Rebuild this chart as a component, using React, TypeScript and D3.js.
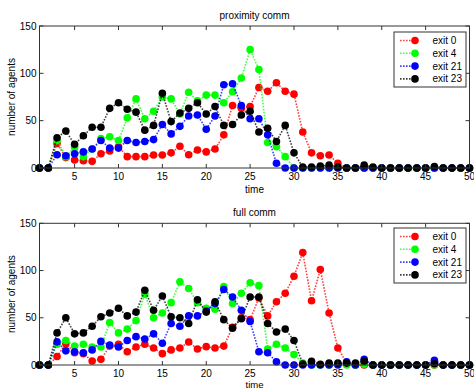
import React from "react";
import * as d3 from "d3";

const times = d3.range(1, 51);
const seriesNames = ["exit 0", "exit 4", "exit 21", "exit 23"];
const seriesColors = ["#ff0000", "#00ff00", "#0000ff", "#000000"];
const xTicks = [5, 10, 15, 20, 25, 30, 35, 40, 45, 50];
const yTicks = [0, 50, 100, 150];

// proximity comm
const proxExit0 = [0,0,26,11,8.5,7.7,7,15,18,22.5,12,12,12,13.7,13.7,16,23,14,19,17,20,35,66,63,65,85,81,90,81,78,38,16,13,13.7,5,0,0,0,0,0,0,0,0,0,0,0,0,0,0,0];
const proxExit4 = [0,0,29,12,22,12,20,31,33,29,53,73,52,60,75,73,57,80,71,77,77,69,80.6,95,125,104,27,22.5,12,0,0,0,0,0,0,0,0,0,0,0,0,0,0,0,0,0,0,0,0,0];
const proxExit21 = [0,0,14,13,15,17,20,29,21,21,29,27,28,30,46,36,44,55,56,41,55,88,89,66,52,52,35,5,0,0,0,0,0,0,0,0,0,0,0,0,0,0,0,0,0,0,0,0,0,0];
const proxExit23 = [0,0,32,39,25,34,43,43,63,69,62,59,40,45,79,49,58,63,69,57,65,45,46,56,60,38,42,28,45,16,1,1,2,3,1,0,0,3,1,0,0,0,0,0,0,1.5,0,0,0,0];

// full comm
const fullExit0 = [0,0,9,22.6,13,12,4.2,6,20,22,14,19,22,18,12,16,18,24.4,17,19.4,18,20,40,50,48,71,52,67,76,94,119,68,101,55,18,2,0,0,0,0,0,0,0,0,0,0,0,0,0,0];
const fullExit4 = [0,0,22,26,20,22,19,19,45,34,38,47,75,50,55,66,88,81,66,60,59,83,65,76,87,84,17,22,18,11,2,0,0,0,1,0,0,0.7,0,0,0,0,0,0,0,0,0,0,0,0];
const fullExit21 = [0,0,24.5,15,14,13,16,25,21,19,26,30,27.5,33,23,44,41,52,52,57,65,80,72,58,46,14,13,3.5,0,0,0,0,0,0,0,3.5,0,6,0,0,0,0,0,0,0,5,0,0,0,0];
const fullExit23 = [0,0,34,50,33,34,41,51,55,60,52,56,79,58,73,51,50,44,69,56,67,48,39,49,72,72,44,35,38,26,1,4,0.7,2,2,2,2,4,0,0,0,0,0,0,0,1.4,0,0,0,0];

const panels = [
  { title: "proximity comm", top: 26, bottom: 168, legendY: 32, xLabelDy: 25, xLabelSize: 10, series: [proxExit0, proxExit4, proxExit21, proxExit23] },
  { title: "full comm", top: 223.3, bottom: 365, legendY: 228, xLabelDy: 22.5, xLabelSize: 9.5, series: [fullExit0, fullExit4, fullExit21, fullExit23] },
];

const LEFT = 39.5;
const RIGHT = 469.5;
const FONT = "'Liberation Sans', Arial, Helvetica, sans-serif";
const AXIS = "#333";

function Panel({ p }: { p: typeof panels[number] }) {
  const x = d3.scaleLinear().domain([1, 50]).range([LEFT, RIGHT]);
  const y = d3.scaleLinear().domain([0, 150]).range([p.bottom, p.top]);
  const line = d3
    .line<number>()
    .x((_, i) => x(times[i]))
    .y((d) => y(d));
  const cx = (LEFT + RIGHT) / 2;
  const tl = 4;
  return (
    <g>
      <rect x={LEFT} y={p.top} width={RIGHT - LEFT} height={p.bottom - p.top} fill="#fff" />
      {p.series.map((s, k) => (
        <g key={k}>
          <path d={line(s) || ""} fill="none" stroke={seriesColors[k]} strokeWidth={1.6} strokeDasharray="1.6,1.4" opacity={0.75} />
          {s.map((v, i) => (
            <circle key={i} cx={x(times[i])} cy={y(v)} r={3.8} fill={seriesColors[k]} />
          ))}
        </g>
      ))}
      {/* frame */}
      <rect x={LEFT} y={p.top} width={RIGHT - LEFT} height={p.bottom - p.top} fill="none" stroke={AXIS} strokeWidth={1} />
      {xTicks.map((t) => (
        <g key={"x" + t}>
          <line x1={x(t)} x2={x(t)} y1={p.bottom} y2={p.bottom - tl} stroke={AXIS} />
          <line x1={x(t)} x2={x(t)} y1={p.top} y2={p.top + tl} stroke={AXIS} />
          <text x={x(t)} y={p.bottom + 12} fontSize={10} textAnchor="middle" fontFamily={FONT} fill="#000">
            {t}
          </text>
        </g>
      ))}
      {yTicks.map((t) => (
        <g key={"y" + t}>
          <line x1={LEFT} x2={LEFT + tl} y1={y(t)} y2={y(t)} stroke={AXIS} />
          <line x1={RIGHT} x2={RIGHT - tl} y1={y(t)} y2={y(t)} stroke={AXIS} />
          <text x={LEFT - 3} y={y(t) + 3.5} fontSize={10} textAnchor="end" fontFamily={FONT} fill="#000">
            {t}
          </text>
        </g>
      ))}
      <text x={cx} y={p.top - 7} fontSize={10} textAnchor="middle" fontFamily={FONT} fill="#000">
        {p.title}
      </text>
      <text x={cx} y={p.bottom + p.xLabelDy} fontSize={p.xLabelSize} textAnchor="middle" fontFamily={FONT} fill="#000">
        time
      </text>
      <text
        transform={`translate(15,${(p.top + p.bottom) / 2}) rotate(-90)`}
        fontSize={10}
        textAnchor="middle"
        fontFamily={FONT}
        fill="#000"
      >
        number of agents
      </text>
      {/* legend */}
      <g transform={`translate(394,${p.legendY})`}>
        <rect x={0} y={0} width={72} height={55} fill="#fff" stroke={AXIS} strokeWidth={1} />
        {seriesNames.map((n, k) => {
          const ly = 8.5 + k * 12.8;
          return (
            <g key={n}>
              <line x1={6} x2={24} y1={ly} y2={ly} stroke={seriesColors[k]} strokeWidth={1.6} strokeDasharray="1.6,1.4" opacity={0.75} />
              <circle cx={21} cy={ly} r={3.8} fill={seriesColors[k]} />
              <text x={38.5} y={ly + 3.5} fontSize={10} fontFamily={FONT} fill="#000">
                {n}
              </text>
            </g>
          );
        })}
      </g>
    </g>
  );
}

export default function App() {
  return (
    <div>
      <style>{`body{margin:0;}`}</style>
      <svg width={474} height={389} style={{ display: "block" }}>
        <rect width={474} height={389} fill="#fff" />
        {panels.map((p) => (
          <Panel key={p.title} p={p} />
        ))}
      </svg>
    </div>
  );
}
